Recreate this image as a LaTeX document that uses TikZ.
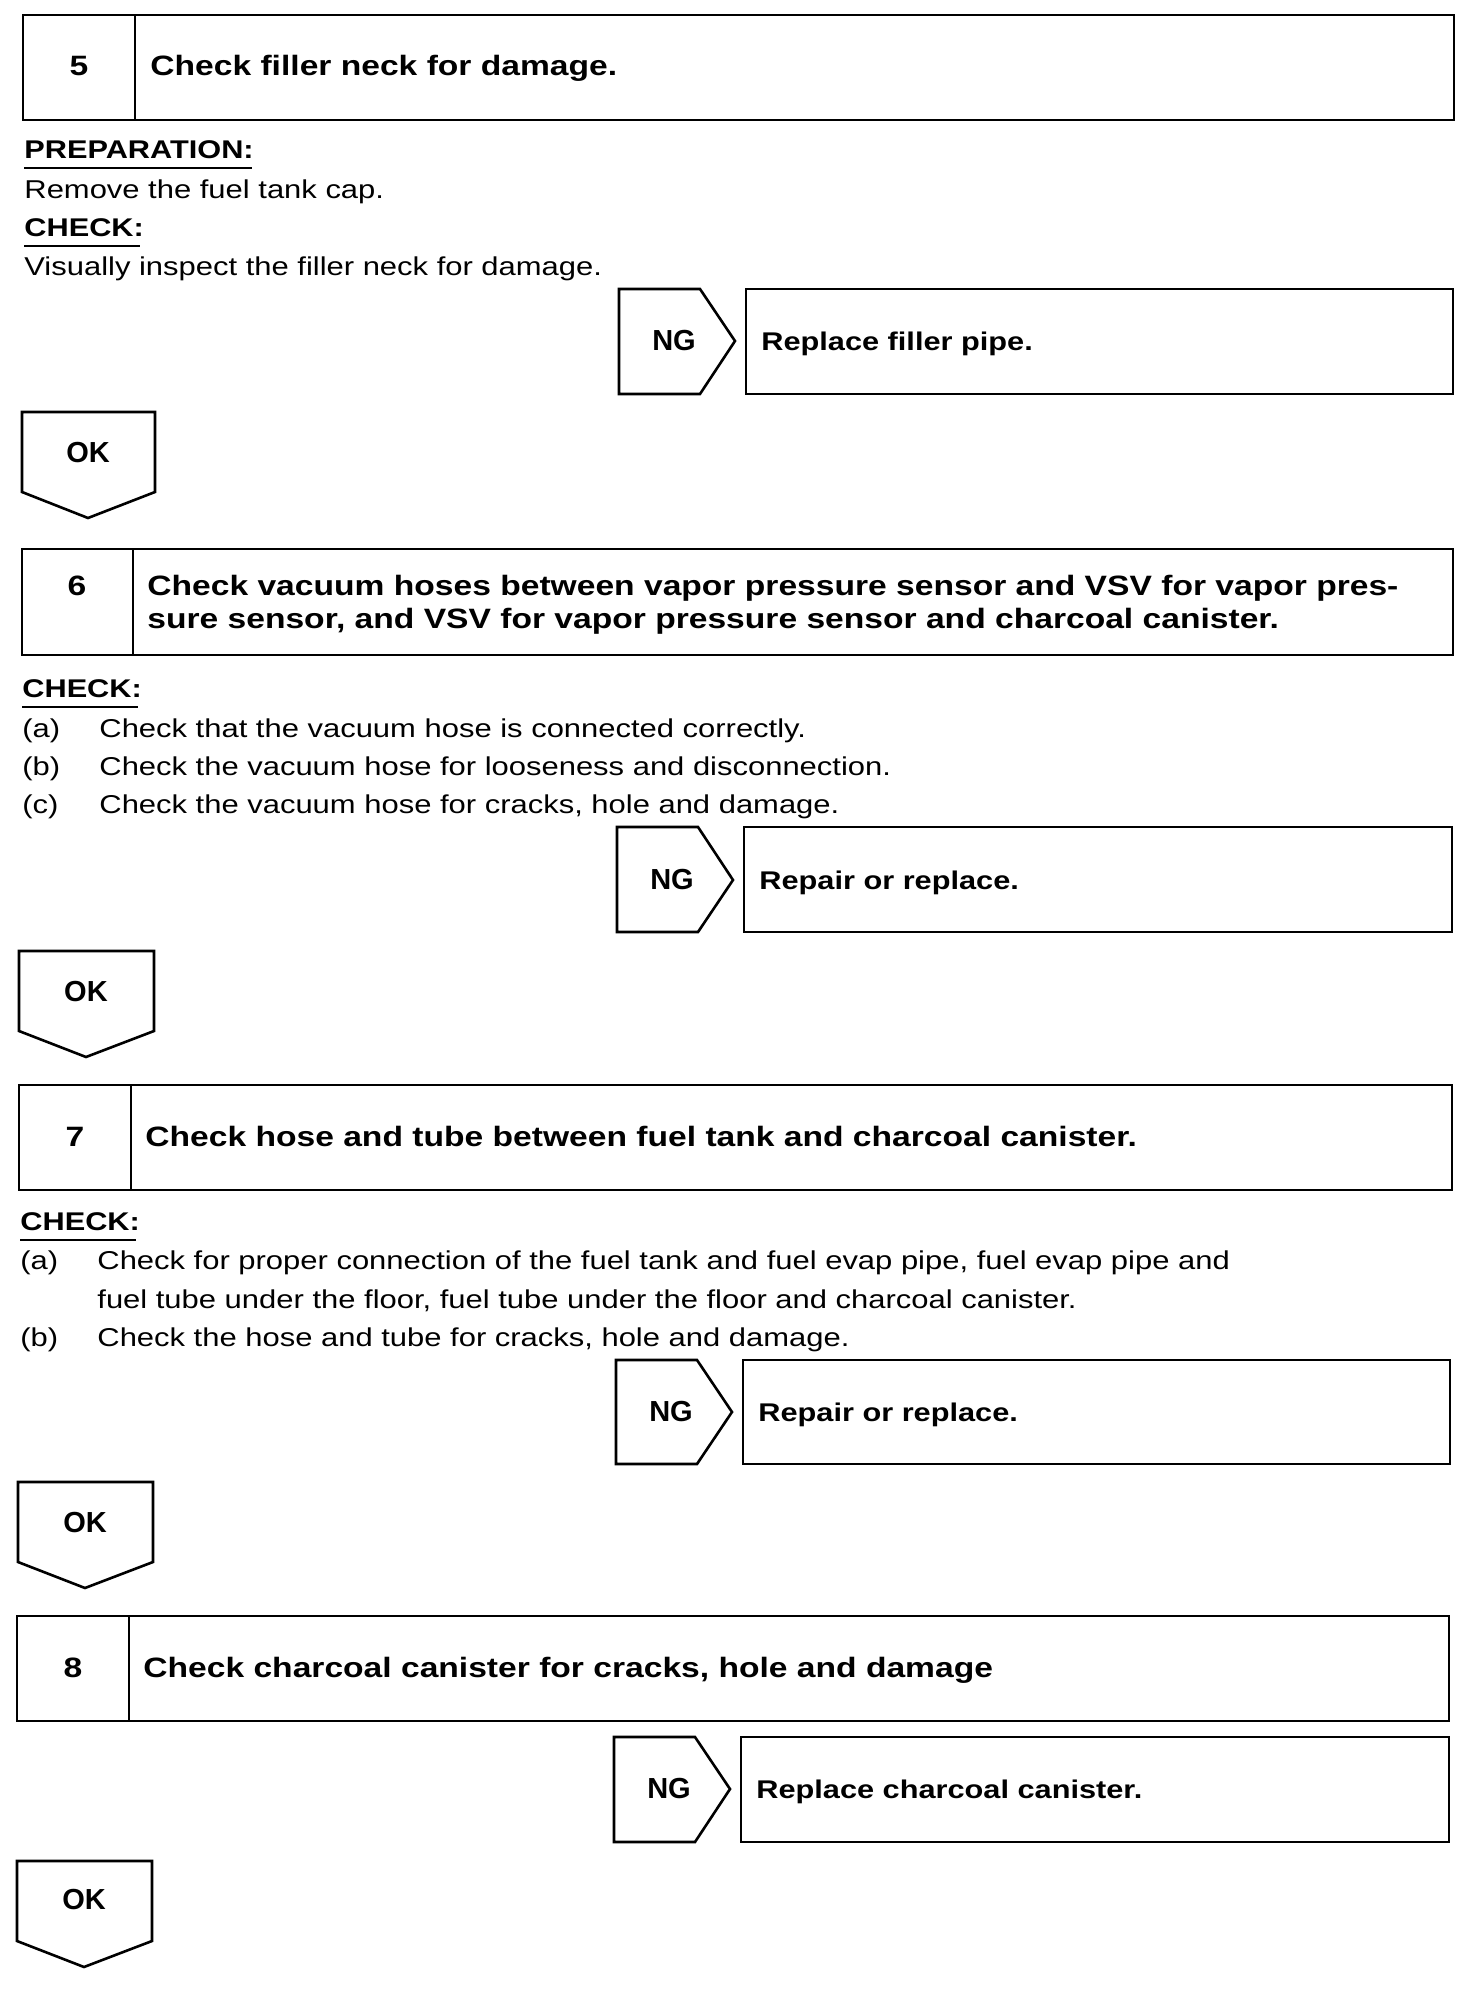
\documentclass[tikz,border=0pt]{standalone}
\usepackage{fontspec}
\setmainfont{Liberation Sans}
\newfontfamily\wide[FakeStretch=1.2]{Liberation Sans}

\begin{document}
\begin{tikzpicture}[x=0.5pt, y=-0.5pt,
    box/.style={line width=1.3pt, line join=miter},
    rule/.style={line width=0.7pt},
    num/.style={font=\wide\bfseries\fontsize{14}{16}\selectfont, anchor=base, inner sep=0pt},
    ttl/.style={font=\wide\bfseries\fontsize{14}{16}\selectfont, anchor=base west, inner sep=0pt},
    res/.style={font=\wide\bfseries\fontsize{12.8}{15}\selectfont, anchor=base west, inner sep=0pt},
    tag/.style={font=\bfseries\fontsize{14.5}{16}\selectfont, anchor=base, inner sep=0pt},
    head/.style={font=\wide\bfseries\fontsize{12.8}{15}\selectfont, anchor=base west, inner sep=0pt},
    txt/.style={font=\wide\fontsize{12.9}{15}\selectfont, anchor=base west, inner sep=0pt}]
    \useasboundingbox (0,0) rectangle (1472,1998);

    % Step 5
    \draw[box] (23,15) rectangle (1454,120);
    \draw[box] (135,15) -- (135,120);
    \node[num] (n5) at (79,75) {5};
    \node[ttl] (t5) at (150,75) {Check filler neck for damage.};

    \node[head] (prep5) at (24,158) {PREPARATION:};
    \draw[rule] (24,168) -- (252,168);
    \node[txt] (rem5) at (24,198) {Remove the fuel tank cap.};
    \node[head] (chk5) at (24,236) {CHECK:};
    \draw[rule] (24,246) -- (140,246);
    \node[txt] (vis5) at (24,275) {Visually inspect the filler neck for damage.};

    % NG branch 5
    \draw[box] (619,289) -- (700,289) -- (735,341) -- (700,394) -- (619,394) -- cycle;
    \node[tag] (ng5) at (674,350) {NG};
    \draw[box] (746,289) rectangle (1453,394);
    \node[res] (fix5) at (761,350) {Replace filler pipe.};

    % OK 5
    \draw[box] (22,412) -- (155,412) -- (155,492) -- (88,518) -- (22,492) -- cycle;
    \node[tag] (ok5) at (88,462) {OK};

    % Step 6
    \draw[box] (22,549) rectangle (1453,655);
    \draw[box] (133,549) -- (133,655);
    \node[num] (n6) at (77,595) {6};
    \node[ttl] (t6a) at (147,595) {Check vacuum hoses between vapor pressure sensor and VSV for vapor pres-};
    \node[ttl] (t6b) at (147,628) {sure sensor, and VSV for vapor pressure sensor and charcoal canister.};

    \node[head] (chk6) at (22,697) {CHECK:};
    \draw[rule] (22,707) -- (138,707);
    \node[txt] (a6l) at (22,737) {(a)};
    \node[txt] (a6) at (99,737) {Check that the vacuum hose is connected correctly.};
    \node[txt] (b6l) at (22,775) {(b)};
    \node[txt] (b6) at (99,775) {Check the vacuum hose for looseness and disconnection.};
    \node[txt] (c6l) at (22,813) {(c)};
    \node[txt] (c6) at (99,813) {Check the vacuum hose for cracks, hole and damage.};

    % NG branch 6
    \draw[box] (617,827) -- (698,827) -- (733,880) -- (698,932) -- (617,932) -- cycle;
    \node[tag] (ng6) at (672,889) {NG};
    \draw[box] (744,827) rectangle (1452,932);
    \node[res] (fix6) at (759,889) {Repair or replace.};

    % OK 6
    \draw[box] (19,951) -- (154,951) -- (154,1031) -- (86,1057) -- (19,1031) -- cycle;
    \node[tag] (ok6) at (86,1001) {OK};

    % Step 7
    \draw[box] (19,1085) rectangle (1452,1190);
    \draw[box] (131,1085) -- (131,1190);
    \node[num] (n7) at (75,1146) {7};
    \node[ttl] (t7) at (145,1146) {Check hose and tube between fuel tank and charcoal canister.};

    \node[head] (chk7) at (20,1230) {CHECK:};
    \draw[rule] (20,1240) -- (136,1240);
    \node[txt] (a7l) at (20,1269) {(a)};
    \node[txt] (a7) at (97,1269) {Check for proper connection of the fuel tank and fuel evap pipe, fuel evap pipe and};
    \node[txt] (a7b) at (97,1308) {fuel tube under the floor, fuel tube under the floor and charcoal canister.};
    \node[txt] (b7l) at (20,1346) {(b)};
    \node[txt] (b7) at (97,1346) {Check the hose and tube for cracks, hole and damage.};

    % NG branch 7
    \draw[box] (616,1360) -- (697,1360) -- (732,1412) -- (697,1464) -- (616,1464) -- cycle;
    \node[tag] (ng7) at (671,1421) {NG};
    \draw[box] (743,1360) rectangle (1450,1464);
    \node[res] (fix7) at (758,1421) {Repair or replace.};

    % OK 7
    \draw[box] (18,1482) -- (153,1482) -- (153,1562) -- (85,1588) -- (18,1562) -- cycle;
    \node[tag] (ok7) at (85,1532) {OK};

    % Step 8
    \draw[box] (17,1616) rectangle (1449,1721);
    \draw[box] (129,1616) -- (129,1721);
    \node[num] (n8) at (73,1677) {8};
    \node[ttl] (t8) at (143,1677) {Check charcoal canister for cracks, hole and damage};

    % NG branch 8
    \draw[box] (614,1737) -- (695,1737) -- (730,1789) -- (695,1842) -- (614,1842) -- cycle;
    \node[tag] (ng8) at (669,1798) {NG};
    \draw[box] (741,1737) rectangle (1449,1842);
    \node[res] (fix8) at (756,1798) {Replace charcoal canister.};

    % OK 8
    \draw[box] (17,1861) -- (152,1861) -- (152,1941) -- (84,1967) -- (17,1941) -- cycle;
    \node[tag] (ok8) at (84,1909) {OK};
\end{tikzpicture}
\end{document}
